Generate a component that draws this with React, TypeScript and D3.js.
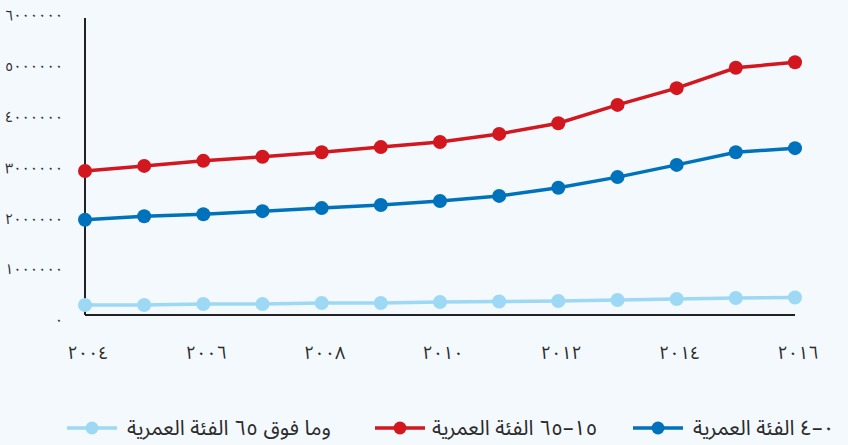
import React from "react";
import * as d3 from "d3";

const years = [2004, 2005, 2006, 2007, 2008, 2009, 2010, 2011, 2012, 2013, 2014, 2015, 2016];
const xTickYears = [2004, 2006, 2008, 2010, 2012, 2014, 2016];
const xTickLabels = ["٢٠٠٤", "٢٠٠٦", "٢٠٠٨", "٢٠١٠", "٢٠١٢", "٢٠١٤", "٢٠١٦"];
const yTickValues = [0, 1000000, 2000000, 3000000, 4000000, 5000000, 6000000];
const yTickLabels = ["٠", "١٠٠٠٠٠٠", "٢٠٠٠٠٠٠", "٣٠٠٠٠٠٠", "٤٠٠٠٠٠٠", "٥٠٠٠٠٠٠", "٦٠٠٠٠٠٠"];

const age0to14 = [2030000, 2100000, 2140000, 2200000, 2260000, 2320000, 2400000, 2500000, 2660000, 2870000, 3110000, 3360000, 3440000];
const age15to65 = [2990000, 3090000, 3190000, 3270000, 3360000, 3460000, 3560000, 3720000, 3930000, 4290000, 4620000, 5020000, 5130000];
const age65plus = [354000, 354000, 374000, 374000, 393000, 393000, 413000, 423000, 433000, 452000, 472000, 492000, 502000];

const seriesNames = ["٠–٤ الفئة العمرية", "١٥–٦٥ الفئة العمرية", "وما فوق ٦٥ الفئة العمرية"];
const seriesColors = ["#0072bc", "#d2171f", "#9dd9f5"];
const seriesData = [age0to14, age15to65, age65plus];

const W = 848;
const H = 445;
const FONT = "'Noto Sans Arabic', 'DejaVu Sans', sans-serif";

export default function App() {
  const x = d3.scaleLinear().domain([2004, 2016]).range([85, 795]);
  const y = d3.scaleLinear().domain([0, 6000000]).range([323, 18]);
  const line = d3
    .line<number>()
    .x((_, i) => x(years[i]))
    .y((d) => y(d));

  const axisY = 315;
  const legendItems = [
    { lineX0: 633, textX: 693 },
    { lineX0: 375, textX: 432 },
    { lineX0: 67, textX: 127 },
  ];
  const legendY = 428;

  return (
    <svg
      width={W}
      height={H}
      style={{ position: "absolute", left: 0, top: 0, display: "block" }}
      fontFamily={FONT}
    >
      <rect x={0} y={0} width={W} height={H} fill="#f3f9fd" />

      {yTickValues.map((v, i) => (
        <text
          key={"yt" + i}
          x={63}
          y={y(v)}
          dy="0.15em"
          textAnchor="end"
          fontSize={14.5}
          fill="#2b2b2b"
        >
          {yTickLabels[i]}
        </text>
      ))}

      <line x1={x(2004)} x2={x(2004)} y1={y(6000000)} y2={axisY} stroke="#222" strokeWidth={2} />
      <line x1={x(2004)} x2={x(2016)} y1={axisY} y2={axisY} stroke="#222" strokeWidth={2} />

      {xTickYears.map((yr, i) => (
        <text
          key={"xt" + i}
          x={x(yr) + 3}
          y={359}
          textAnchor="middle"
          fontSize={18}
          fill="#2b2b2b"
        >
          {xTickLabels[i]}
        </text>
      ))}

      {[2, 0, 1].map((si) => (
        <g key={"s" + si}>
          <path d={line(seriesData[si]) || ""} fill="none" stroke={seriesColors[si]} strokeWidth={3.5} />
          {seriesData[si].map((v, i) => (
            <circle key={i} cx={x(years[i])} cy={y(v)} r={7} fill={seriesColors[si]} />
          ))}
        </g>
      ))}

      {legendItems.map((it, i) => (
        <g key={"lg" + i}>
          <line
            x1={it.lineX0}
            x2={it.lineX0 + 50}
            y1={legendY}
            y2={legendY}
            stroke={seriesColors[i]}
            strokeWidth={3.5}
          />
          <circle cx={it.lineX0 + 25} cy={legendY} r={6.5} fill={seriesColors[i]} />
          <text x={it.textX} y={legendY} dy="0.35em" fontSize={21} fill="#2b2b2b">
            {seriesNames[i]}
          </text>
        </g>
      ))}
    </svg>
  );
}
